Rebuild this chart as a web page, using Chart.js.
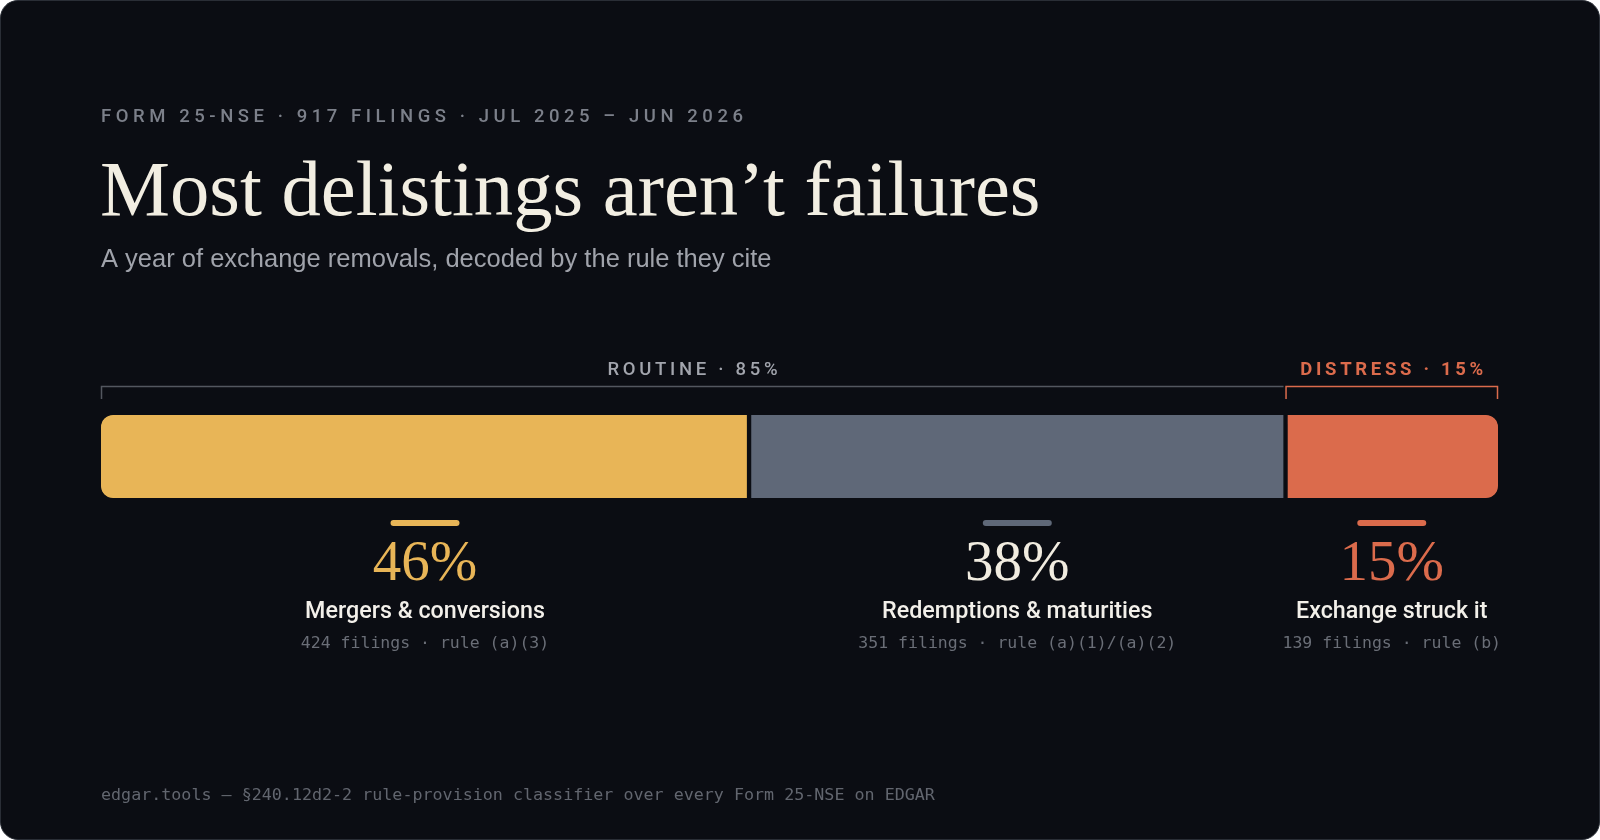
<!DOCTYPE html>
<html><head><meta charset="utf-8">
<script src="https://cdn.jsdelivr.net/npm/chart.js@4.4.0/dist/chart.umd.min.js"></script>
<style>
html,body{margin:0;padding:0;background:#ffffff;}
#card{position:absolute;left:0;top:0;width:1600px;height:840px;box-sizing:border-box;border:1px solid #2a2e36;border-radius:18px;background:#0b0d13;overflow:hidden;}
#c{position:absolute;left:-1px;top:-1px;}
</style></head>
<body>
<div id="card"><canvas id="c" width="1600" height="840"></canvas></div>
<script>
// ---- data ----
const categories = ['Mergers & conversions', 'Redemptions & maturities', 'Exchange struck it'];
const filings = [424, 351, 139];
const percents = [46, 38, 15];
const rules = ['rule (a)(3)', 'rule (a)(1)/(a)(2)', 'rule (b)'];
const groupLabels = ['ROUTINE', 'DISTRESS'];
const groupPercents = [85, 15];
const groupFirst = [0, 2];
const groupLast = [1, 2];
const totalFilings = 917;
const kickerText = 'FORM 25-NSE · ' + totalFilings + ' FILINGS · JUL 2025 – JUN 2026';
const titleText = 'Most delistings aren’t failures';
const subtitleText = 'A year of exchange removals, decoded by the rule they cite';
const footerText = 'edgar.tools — §240.12d2-2 rule-provision classifier over every Form 25-NSE on EDGAR';

// ---- styles ----
const BG = '#0b0d13';
const barColors = ['#e8b557', '#5f6878', '#db6b4c'];
const percentColors = ['#e8b557', '#f1ece0', '#db6b4c'];
const groupColors = ['#a2a5ad', '#db6b4c'];
const bracketColors = ['#53575f', '#db6b4c'];
const SERIF = '"Liberation Serif", "DejaVu Serif", serif';
const SANS = '"Liberation Sans", Arial, sans-serif';
const MED = 'Roboto, "Liberation Sans", sans-serif';
const MONO = '"DejaVu Sans Mono", "Liberation Mono", monospace';

function drawSpaced(ctx, text, x, y, spacing, align, targetWidth) {
  const chars = Array.from(text);
  let sum = 0;
  const ws = chars.map(ch => ctx.measureText(ch).width);
  ws.forEach(w => sum += w);
  if (targetWidth) spacing = (targetWidth - sum) / (chars.length - 1);
  const total = sum + spacing * (chars.length - 1);
  let cx = align === 'center' ? x - total / 2 : (align === 'right' ? x - total : x);
  ctx.textAlign = 'left';
  chars.forEach((ch, i) => { ctx.fillText(ch, cx, y); cx += ws[i] + spacing; });
}

const overlay = {
  id: 'overlay',
  afterDatasetsDraw(chart) {
    const ctx = chart.ctx;
    const area = chart.chartArea;
    ctx.save();
    // kicker
    ctx.fillStyle = '#7c808a';
    ctx.font = '500 18.5px ' + MED;
    ctx.textBaseline = 'middle';
    drawSpaced(ctx, kickerText, 101, 117, 0, 'left', 642);
    // title fitted to width
    ctx.textBaseline = 'alphabetic';
    ctx.font = '100px ' + SERIF;
    const tw = ctx.measureText(titleText).width;
    const tsize = 100 * 940 / tw;
    ctx.font = tsize.toFixed(1) + 'px ' + SERIF;
    ctx.fillStyle = '#f2eee2';
    ctx.textAlign = 'left';
    ctx.fillText(titleText, 100, 215);
    // subtitle
    ctx.font = '25.5px ' + SANS;
    ctx.fillStyle = '#a0a3ab';
    ctx.textBaseline = 'middle';
    ctx.fillText(subtitleText, 101, 260);

    // brackets + group labels
    const metas = filings.map((_, i) => chart.getDatasetMeta(i).data[0]);
    const lineY = area.top - 28.5;
    const tickY = area.top - 16;
    const groupWidths = [170, 183];
    groupLabels.forEach((g, gi) => {
      const x0 = Math.min(metas[groupFirst[gi]].base, metas[groupFirst[gi]].x);
      const x1 = Math.max(metas[groupLast[gi]].base, metas[groupLast[gi]].x);
      const left = x0 + 0.5;
      const right = gi === 0 ? x1 - 2 : x1 - 0.5;
      ctx.strokeStyle = bracketColors[gi];
      ctx.lineWidth = 1.5;
      ctx.beginPath();
      ctx.moveTo(left, tickY);
      ctx.lineTo(left, lineY);
      ctx.lineTo(right, lineY);
      if (gi === 1) ctx.lineTo(right, tickY);
      ctx.stroke();
      ctx.fillStyle = groupColors[gi];
      ctx.font = (gi === 0 ? '500 ' : 'bold ') + '18.5px ' + MED;
      ctx.textBaseline = 'middle';
      drawSpaced(ctx, g + ' · ' + groupPercents[gi] + '%', (left + right) / 2, area.top - 45, 0, 'center', groupWidths[gi]);
    });

    // label size fitted so the first label spans ~240px
    ctx.font = '500 20px ' + MED;
    const lsize = 20 * 240 / ctx.measureText(categories[0]).width;

    // per-segment annotations
    metas.forEach((m, i) => {
      const cx = (m.base + m.x) / 2;
      // pill
      ctx.fillStyle = barColors[i];
      ctx.beginPath();
      ctx.roundRect(cx - 34.5, area.bottom + 22, 69, 6, 3);
      ctx.fill();
      // percent
      ctx.fillStyle = percentColors[i];
      ctx.font = '57px ' + SERIF;
      ctx.textAlign = 'center';
      ctx.textBaseline = 'alphabetic';
      ctx.fillText(percents[i] + '%', cx, area.bottom + 82);
      // label
      ctx.fillStyle = '#f3f0ea';
      ctx.font = '500 ' + lsize.toFixed(1) + 'px ' + MED;
      ctx.textBaseline = 'middle';
      ctx.fillText(categories[i], cx, area.bottom + 114);
      // sub
      ctx.fillStyle = '#6a6e77';
      ctx.font = '16.5px ' + MONO;
      ctx.fillText(filings[i] + ' filings · ' + rules[i], cx, area.bottom + 146);
    });

    // footer
    ctx.textAlign = 'left';
    ctx.fillStyle = '#62666f';
    ctx.font = '16.7px ' + MONO;
    ctx.textBaseline = 'middle';
    ctx.fillText(footerText, 101, 796);
    ctx.restore();
  }
};

const borderWidths = [{top:0,right:2.5,bottom:0,left:0},{top:0,right:2.5,bottom:0,left:2.5},{top:0,right:0,bottom:0,left:2.5}];
const borderRadii = [{topLeft:12,bottomLeft:12,topRight:0,bottomRight:0},{topLeft:0,bottomLeft:0,topRight:0,bottomRight:0},{topLeft:0,bottomLeft:0,topRight:12,bottomRight:12}];

const total = filings.reduce((a, b) => a + b, 0);

new Chart(document.getElementById('c'), {
  type: 'bar',
  data: {
    labels: ['Form 25-NSE'],
    datasets: categories.map((cat, i) => ({
      label: cat,
      data: [filings[i]],
      backgroundColor: barColors[i],
      borderColor: BG,
      borderWidth: borderWidths[i],
      borderRadius: borderRadii[i],
      borderSkipped: false,
      barPercentage: 1,
      categoryPercentage: 1
    }))
  },
  options: {
    indexAxis: 'y',
    responsive: false,
    animation: false,
    events: [],
    layout: { padding: { left: 101, right: 102, top: 415, bottom: 342 } },
    plugins: { legend: { display: false }, tooltip: { enabled: false }, title: { display: false } },
    scales: {
      x: { stacked: true, min: 0, max: total, display: false },
      y: { stacked: true, display: false }
    }
  },
  plugins: [overlay]
});
</script>
</body></html>
